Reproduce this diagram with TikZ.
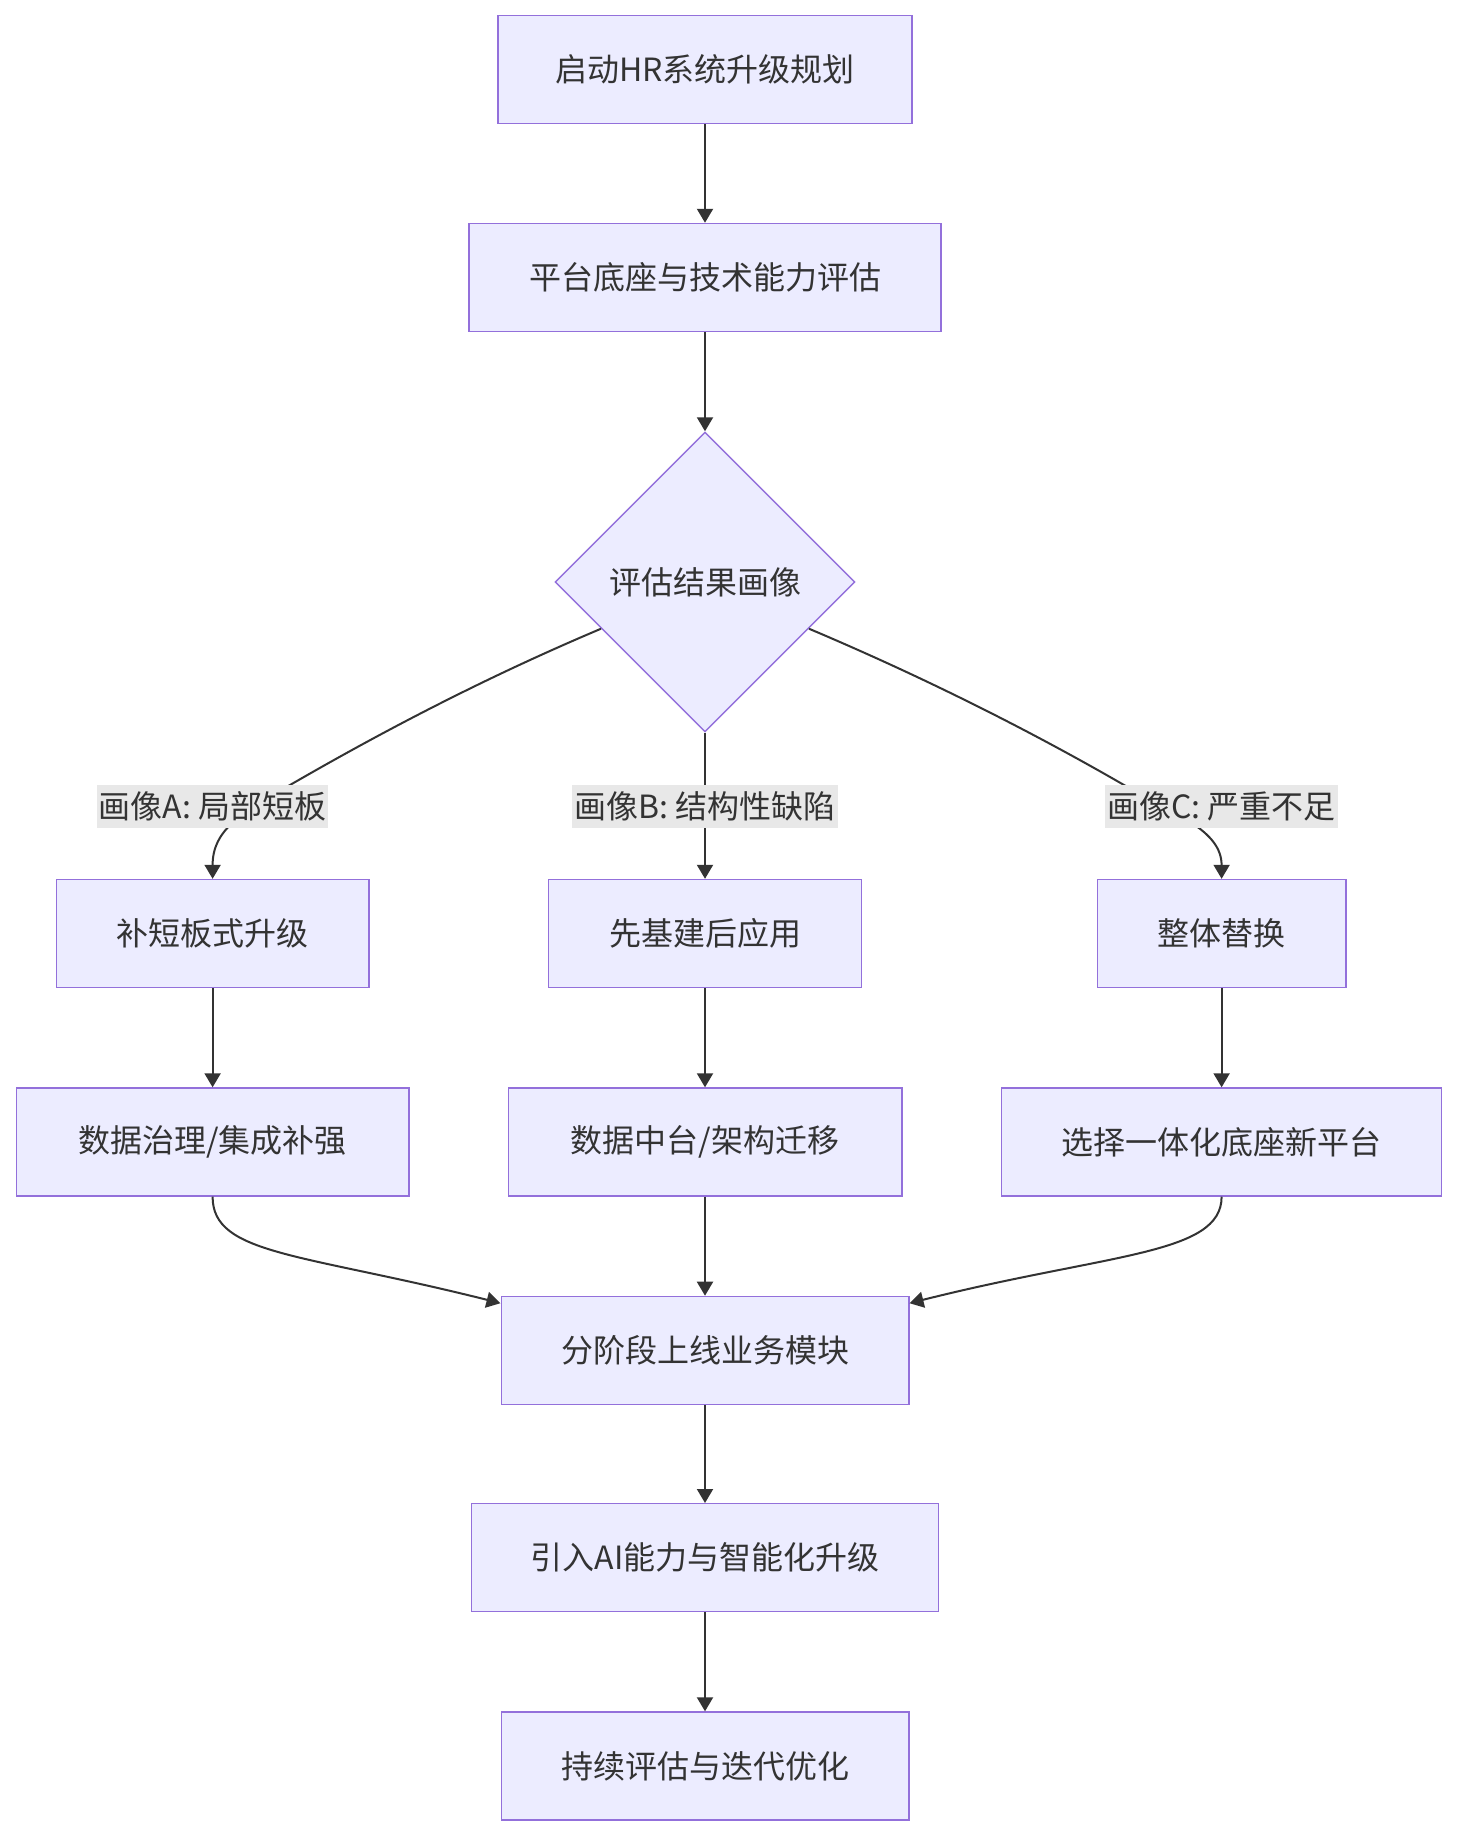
\documentclass[tikz,border=0pt]{standalone}
\usepackage{fontspec}
\setmainfont{Noto Sans CJK SC}
\usetikzlibrary{arrows.meta,shapes.geometric,calc}
\definecolor{boxfill}{HTML}{ECECFF}
\definecolor{boxline}{HTML}{9370DB}
\definecolor{ink}{HTML}{333333}
\definecolor{lblbg}{HTML}{E8E8E8}
\begin{document}
\begin{tikzpicture}[x=0.5pt,y=-0.5pt,
  txt/.style={text=ink, font=\fontsize{16pt}{19pt}\selectfont},
  box/.style={txt, draw=boxline, fill=boxfill, line width=0.7pt, minimum height=54pt, inner sep=0pt},
  dia/.style={txt, diamond, draw=boxline, fill=boxfill, line width=0.7pt, minimum width=150pt, minimum height=150pt, inner sep=0pt, aspect=1},
  lbl/.style={txt, fill=lblbg, inner xsep=1pt, inner ysep=0pt, minimum height=21.5pt},
  link/.style={draw=ink, line width=1pt, -{Triangle[length=7pt,width=8pt]}},
]
\useasboundingbox (0,0) rectangle (1457,1836);
% nodes
\node[box, minimum width=207pt] (n1) at (705,69.7) {启动HR系统升级规划};
\node[box, minimum width=236pt] (n2) at (705,277.5) {平台底座与技术能力评估};
\node[dia] (d) at (705,582) {评估结果画像};
\node[box, minimum width=156.4pt] (a1) at (212.6,933.5) {补短板式升级};
\node[box, minimum width=156.4pt] (b1) at (705,933.5) {先基建后应用};
\node[box, minimum width=124.2pt] (c1) at (1221.6,933.5) {整体替换};
\node[box, minimum width=196.2pt] (a2) at (212.6,1142) {数据治理/集成补强};
\node[box, minimum width=196.8pt] (b2) at (705,1142) {数据中台/架构迁移};
\node[box, minimum width=220pt] (c2) at (1221.6,1142) {选择一体化底座新平台};
\node[box, minimum width=203.8pt] (m) at (705,1350.4) {分阶段上线业务模块};
\node[box, minimum width=233.6pt] (ai) at (705,1557.7) {引入AI能力与智能化升级};
\node[box, minimum width=203.8pt] (last) at (705,1766) {持续评估与迭代优化};
% helper coordinates
\coordinate (dA) at ($(d.west)!0.31!(d.south)$);
\coordinate (dC) at ($(d.east)!0.31!(d.south)$);
\coordinate (kA) at (290,785);
\coordinate (kC) at (1124,785);
\coordinate (mA) at ($(m.north west)+(0,7.5)$);
\coordinate (mC) at ($(m.north east)+(0,7.5)$);
% edges
\draw[link] (n1) -- (n2);
\draw[link] (n2) -- (d);
\draw[link] (dA) .. controls (482,679) and (380,733) .. (kA)
  .. controls (240,814) and (212.6,830) .. (a1.north);
\draw[link] (d.south) -- (b1.north);
\draw[link] (dC) .. controls (928,679) and (1034,733) .. (kC)
  .. controls (1174,814) and (1221.6,830) .. (c1.north);
\draw[link] (a1) -- (a2);
\draw[link] (b1) -- (b2);
\draw[link] (c1) -- (c2);
\draw[link] (a2.south) .. controls (212.6,1255) and (301,1253) .. (mA);
\draw[link] (b2) -- (m);
\draw[link] (c2.south) .. controls (1221.6,1255) and (1109,1253) .. (mC);
\draw[link] (m) -- (ai);
\draw[link] (ai) -- (last);
% edge labels
\node[lbl] (lA) at (212.6,806) {画像A: 局部短板};
\node[lbl] (lB) at (705,806) {画像B: 结构性缺陷};
\node[lbl] (lC) at (1221.6,806) {画像C: 严重不足};
\end{tikzpicture}
\end{document}
